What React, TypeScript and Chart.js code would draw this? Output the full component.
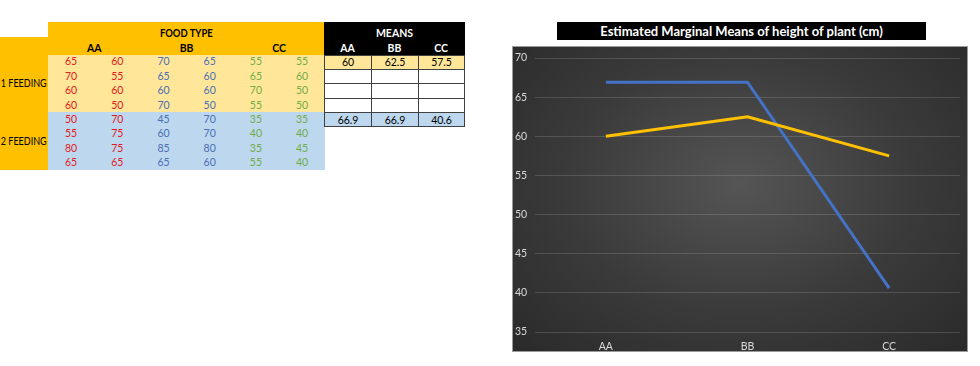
import React, { useEffect, useRef } from "react";
import { Chart, registerables } from "chart.js";

Chart.register(...registerables);

const foodTypes = ["AA", "BB", "CC"];
const feeding1Rows = [
  [65, 60, 70, 65, 55, 55],
  [70, 55, 65, 60, 65, 60],
  [60, 60, 60, 60, 70, 50],
  [60, 50, 70, 50, 55, 50],
];
const feeding2Rows = [
  [50, 70, 45, 70, 35, 35],
  [55, 75, 60, 70, 40, 40],
  [80, 75, 85, 80, 35, 45],
  [65, 65, 65, 60, 55, 40],
];
const means1Feeding = [60, 62.5, 57.5];
const means2Feeding = [66.9, 66.9, 40.6];
const yTicks = [35, 40, 45, 50, 55, 60, 65, 70];
const chartTitle = "Estimated Marginal Means of height of plant (cm)";

const FONT = "Lato, 'Liberation Sans', sans-serif";
const ORANGE = "#FFC000";
const LIGHT_YELLOW = "#FFE699";
const LIGHT_BLUE = "#BDD7EE";
const colColors = ["#E3191C", "#E3191C", "#4A6FB5", "#4A6FB5", "#70AD47", "#70AD47"];

const TABLE_LEFT = 48;
const COL_W = 46.2;
const ROW_TOP = 54.5;
const ROW_H = 14.4;

function Box(props: { x: number; y: number; w: number; h: number; bg?: string; style?: React.CSSProperties; children?: React.ReactNode }) {
  const { x, y, w, h, bg, style, children } = props;
  return (
    <div
      style={{
        position: "absolute",
        left: x,
        top: y,
        width: w,
        height: h,
        background: bg,
        display: "flex",
        alignItems: "center",
        justifyContent: "center",
        boxSizing: "border-box",
        fontFamily: FONT,
        fontSize: 10.5,
        lineHeight: 1,
        whiteSpace: "nowrap",
        ...style,
      }}
    >
      {children}
    </div>
  );
}

function SheetTable() {
  const allRows = [...feeding1Rows, ...feeding2Rows];
  const meanCols = [324, 371, 418, 464];
  return (
    <>
      <Box x={TABLE_LEFT} y={22} w={277} h={33} bg={ORANGE} />
      <Box x={0} y={37} w={TABLE_LEFT} h={133} bg={ORANGE} />
      <Box x={TABLE_LEFT} y={26} w={277} h={14} style={{ fontWeight: 700 }}>
        <span style={{ display: "inline-block", transform: "scaleX(0.9)" }}>FOOD TYPE</span>
      </Box>
      {foodTypes.map((f, i) => (
        <Box key={f} x={TABLE_LEFT + i * COL_W * 2} y={41} w={COL_W * 2} h={14} style={{ fontWeight: 700 }}>
          {f}
        </Box>
      ))}
      <Box x={0} y={76} w={TABLE_LEFT} h={14}>
        <span style={{ display: "inline-block", transform: "scaleX(0.86)" }}>1 FEEDING</span>
      </Box>
      <Box x={0} y={134} w={TABLE_LEFT} h={14}>
        <span style={{ display: "inline-block", transform: "scaleX(0.86)" }}>2 FEEDING</span>
      </Box>
      <Box x={TABLE_LEFT} y={ROW_TOP} w={277} h={ROW_H * 4} bg={LIGHT_YELLOW} />
      <Box x={TABLE_LEFT} y={ROW_TOP + ROW_H * 4} w={277} h={ROW_H * 4} bg={LIGHT_BLUE} />
      {allRows.map((row, r) =>
        row.map((v, c) => (
          <Box key={r + "-" + c} x={TABLE_LEFT + c * COL_W} y={ROW_TOP + r * ROW_H} w={COL_W} h={ROW_H} style={{ color: colColors[c] }}>
            {v}
          </Box>
        ))
      )}
      <Box x={324} y={22} w={141} h={33} bg="#000" />
      <Box x={324} y={26} w={141} h={14} style={{ color: "#fff", fontWeight: 700 }}>MEANS</Box>
      {foodTypes.map((f, i) => (
        <Box key={"mh" + f} x={meanCols[i]} y={41} w={meanCols[i + 1] - meanCols[i]} h={14} style={{ color: "#fff", fontWeight: 700 }}>
          {f}
        </Box>
      ))}
      {[0, 1, 2, 3, 4].map((r) =>
        foodTypes.map((f, i) => {
          const bg = r === 0 ? LIGHT_YELLOW : r === 4 ? LIGHT_BLUE : "#fff";
          const val = r === 0 ? means1Feeding[i] : r === 4 ? means2Feeding[i] : "";
          return (
            <Box
              key={"m" + r + f}
              x={meanCols[i]}
              y={ROW_TOP + r * ROW_H}
              w={meanCols[i + 1] - meanCols[i] + 1}
              h={ROW_H + 1}
              bg={bg}
              style={{ border: "1px solid #404040", color: "#000" }}
            >
              {val}
            </Box>
          );
        })
      )}
    </>
  );
}

function LineChart() {
  const ref = useRef<HTMLCanvasElement>(null);
  useEffect(() => {
    if (!ref.current) return;
    const chart = new Chart(ref.current, {
      type: "line",
      data: {
        labels: foodTypes,
        datasets: [
          {
            label: "1 FEEDING",
            data: means1Feeding,
            borderColor: "#FFC000",
            borderWidth: 3,
            pointRadius: 0,
            tension: 0,
          },
          {
            label: "2 FEEDING",
            data: means2Feeding,
            borderColor: "#4472C4",
            borderWidth: 3,
            pointRadius: 0,
            tension: 0,
          },
        ],
      },
      options: {
        animation: false,
        responsive: false,
        maintainAspectRatio: false,
        layout: { padding: { top: 12, right: 8, left: 3, bottom: 0 } },
        plugins: { legend: { display: false }, tooltip: { enabled: false }, title: { display: false } },
        scales: {
          x: {
            offset: true,
            grid: { display: false, drawTicks: false },
            border: { display: false },
            ticks: { color: "#d9d9d9", font: { family: FONT, size: 10.5 }, padding: 8 },
            afterFit: (s: any) => {
              s.height = 20;
            },
          },
          y: {
            min: 35,
            max: 70,
            afterBuildTicks: (s: any) => {
              s.ticks = yTicks.map((v) => ({ value: v }));
            },
            grid: { color: "rgba(255,255,255,0.14)", lineWidth: 1, drawTicks: false },
            border: { display: false },
            ticks: { color: "#d9d9d9", font: { family: FONT, size: 10.5 }, crossAlign: "far", padding: 0 },
            afterFit: (s: any) => {
              s.width = 20;
            },
          },
        },
      },
    });
    return () => chart.destroy();
  }, []);
  return (
    <div
      style={{
        position: "absolute",
        left: 512,
        top: 46,
        width: 456,
        height: 306,
        background: "radial-gradient(ellipse at 50% 45%, #555555 0%, #3a3a3a 55%, #2a2a2a 100%)",
        border: "1px solid #9a9a9a",
        boxSizing: "border-box",
      }}
    >
      <canvas ref={ref} width={456} height={306} style={{ position: "absolute", left: -1, top: -1, width: 456, height: 306 }} />
    </div>
  );
}

export default function App() {
  return (
    <div style={{ position: "fixed", left: 0, top: 0, width: 980, height: 366, background: "#fff", overflow: "hidden" }}>
      <SheetTable />
      <Box x={557} y={22} w={369} h={18} bg="#000" style={{ color: "#fff", fontWeight: 700, fontSize: 13 }}>
        {chartTitle}
      </Box>
      <LineChart />
    </div>
  );
}
